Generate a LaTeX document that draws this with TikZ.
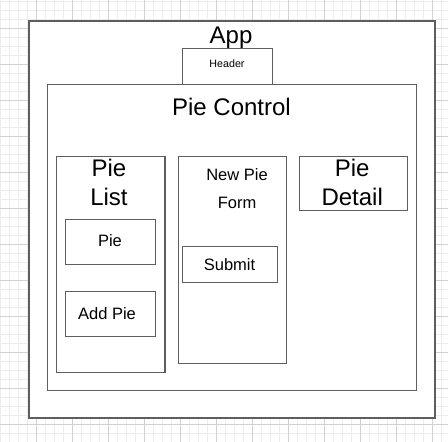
\documentclass[tikz,border=0pt]{standalone}
\usepackage{fontspec}
\setmainfont{Liberation Sans}
\usetikzlibrary{positioning}
\definecolor{grid-minor}{HTML}{EDEDED}
\definecolor{grid-major}{HTML}{D2D2D2}
\definecolor{box-line}{HTML}{5E5E5E}
\tikzset{
  comp/.style 2 args={
    draw=box-line,
    fill=white,
    line width=1.2pt,
    minimum width=#1,
    minimum height=#2,
    inner sep=0pt,
    outer sep=0pt},
}

\begin{document}
\begin{tikzpicture}[
  x=1pt, y=-1pt,
  big/.style={font=\fontsize{24}{29}\selectfont, anchor=base, inner sep=0pt, align=center},
  mid/.style={font=\fontsize{16.5}{28.3}\selectfont, anchor=base, inner sep=0pt, align=center},
  tiny/.style={font=\fontsize{10.7}{12}\selectfont, anchor=base, inner sep=0pt}
]
\useasboundingbox (0,0) rectangle (448,442);

% Grid
\foreach \x in {0,9,...,441} \draw[grid-minor, line width=1pt] (\x,0) -- (\x,442);
\foreach \y in {1,10,...,442} \draw[grid-minor, line width=1pt] (0,\y) -- (448,\y);
\foreach \x in {36,72,...,432} \draw[grid-major, line width=1pt] (\x,0) -- (\x,442);
\foreach \y in {28,64,...,424} \draw[grid-major, line width=1pt] (0,\y) -- (448,\y);

% App
\node[comp={406}{397}] (app) at (232, 219.5) {};
\node[big] (apptitle) at (231, 43) {App};
\node[comp={90}{36}] (header) at (227.5, 66.5) {};
\node[tiny] (headertitle) at (227, 67.7) {Header};

% Pie Control
\node[comp={369}{306}] (control) at (232.2, 237.6) {};
\node[big] (controltitle) at (231.5, 115) {Pie Control};

% Pie List (base = last line)
\node[comp={108.3}{215.6}] (list) at (110.8, 264.5) {};
\node[big] (listtitle) at (109, 205.7) {Pie\\List};
\node[comp={90}{45}] (pie) at (110.7, 242.2) {};
\node[mid] (pietitle) at (110, 246.7) {Pie};
\node[comp={90}{45}] (addpie) at (110.7, 314.2) {};
\node[mid] (addpietitle) at (107, 319) {Add Pie};

% New Pie Form
\node[comp={108}{206.6}] (form) at (232.3, 260) {};
\node[mid] (formtitle) at (237, 208.3) {New Pie\\Form};
\node[comp={94.6}{36}] (submit) at (230, 264.7) {};
\node[mid] (submittitle) at (229.5, 270) {Submit};

% Pie Detail
\node[comp={108}{54}] (detail) at (353.7, 183.7) {};
\node[big] (detailtitle) at (352.2, 205.7) {Pie\\Detail};
\end{tikzpicture}
\end{document}
